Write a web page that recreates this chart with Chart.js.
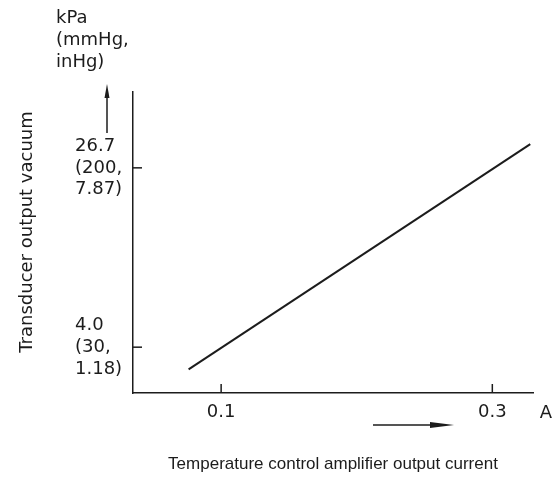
<!DOCTYPE html>
<html>
<head>
<meta charset="utf-8">
<script src="https://cdn.jsdelivr.net/npm/chart.js@4"></script>
<style>
  html, body { margin: 0; padding: 0; background: #fff; }
  #wrap { width: 554px; height: 479px; position: relative; }
</style>
</head>
<body>
<div id="wrap"><canvas id="chart" width="554" height="479"></canvas></div>
<script>
// current (A) vs vacuum (kPa)
const currentA = [0.076, 0.328];
const vacuumKPa = [1.2, 29.7];

const xTickValues = [0.1, 0.3];
const xTickLabels = ['0.1', '0.3'];
const yTickValues = [4.0, 26.7];
const yTickLabels = [['4.0', '(30,', '1.18)'], ['26.7', '(200,', '7.87)']];

const unitLines = ['kPa', '(mmHg,', 'inHg)'];
const xUnit = 'A';
const xTitle = 'Temperature control amplifier output current';
const yTitle = 'Transducer output vacuum';

const ink = '#1c1c1c';

// inward tick marks, arrows and loose text labels
const decorations = {
    id: 'decorations',
    afterDraw(chart) {
        const ctx = chart.ctx;
        const area = chart.chartArea;
        const xs = chart.scales.x;
        const ys = chart.scales.y;
        ctx.save();
        ctx.strokeStyle = ink;
        ctx.fillStyle = ink;
        ctx.lineWidth = 1.5;

        // tick marks pointing into the plot
        xTickValues.forEach(v => {
            const px = xs.getPixelForValue(v);
            ctx.beginPath();
            ctx.moveTo(px, area.bottom);
            ctx.lineTo(px, area.bottom - 9);
            ctx.stroke();
        });
        yTickValues.forEach(v => {
            const py = ys.getPixelForValue(v);
            ctx.beginPath();
            ctx.moveTo(area.left, py);
            ctx.lineTo(area.left + 9, py);
            ctx.stroke();
        });

        // vertical arrow beside the y axis
        const ax = area.left - 26;
        ctx.beginPath();
        ctx.moveTo(ax, area.top + 41);
        ctx.lineTo(ax, area.top - 2);
        ctx.stroke();
        ctx.beginPath();
        ctx.moveTo(ax, area.top - 8);
        ctx.lineTo(ax - 2.5, area.top + 6);
        ctx.lineTo(ax + 2.5, area.top + 6);
        ctx.closePath();
        ctx.fill();

        // horizontal arrow under the x axis
        const ay = area.bottom + 32;
        ctx.beginPath();
        ctx.moveTo(373, ay);
        ctx.lineTo(446, ay);
        ctx.stroke();
        ctx.beginPath();
        ctx.moveTo(454, ay);
        ctx.lineTo(430, ay - 3);
        ctx.lineTo(430, ay + 3);
        ctx.closePath();
        ctx.fill();

        // unit text
        ctx.font = '18px "DejaVu Sans"';
        ctx.textAlign = 'left';
        ctx.textBaseline = 'middle';
        unitLines.forEach((t, i) => ctx.fillText(t, 56, 18 + i * 22));
        ctx.textAlign = 'center';
        ctx.fillText(xUnit, 546, area.bottom + 20);

        // rotated y title
        ctx.translate(27, 232);
        ctx.rotate(-Math.PI / 2);
        ctx.fillText(yTitle, 0, 0);
        ctx.restore();
    }
};

new Chart(document.getElementById('chart'), {
    type: 'line',
    data: {
        labels: currentA,
        datasets: [{
            data: currentA.map((x, i) => ({ x: x, y: vacuumKPa[i] })),
            borderColor: ink,
            borderWidth: 2,
            pointRadius: 0,
            tension: 0,
            fill: false
        }]
    },
    options: {
        responsive: false,
        animation: false,
        layout: { padding: { left: 75, top: 92, right: 21, bottom: 0 } },
        plugins: {
            legend: { display: false },
            tooltip: { enabled: false }
        },
        scales: {
            x: {
                type: 'linear',
                min: 0.035,
                max: 0.33,
                afterBuildTicks: scale => { scale.ticks = xTickValues.map(v => ({ value: v })); },
                afterFit: scale => { scale.height = 86; },
                ticks: {
                    color: ink,
                    padding: 9,
                    maxRotation: 0,
                    autoSkip: false,
                    font: { family: 'DejaVu Sans', size: 18 },
                    callback: function(value) {
                        const i = xTickValues.indexOf(value);
                        return i >= 0 ? xTickLabels[i] : '';
                    }
                },
                grid: { drawOnChartArea: false, drawTicks: false },
                border: { display: true, color: ink, width: 1.5 },
                title: {
                    display: true,
                    text: xTitle,
                    color: ink,
                    padding: { top: 0, bottom: 4 },
                    font: { family: 'Liberation Sans', size: 17 }
                }
            },
            y: {
                type: 'linear',
                min: -1.8,
                max: 36.3,
                afterBuildTicks: scale => { scale.ticks = yTickValues.map(v => ({ value: v })); },
                afterFit: scale => { scale.width = 58; },
                ticks: {
                    color: ink,
                    crossAlign: 'far',
                    autoSkip: false,
                    font: { family: 'DejaVu Sans', size: 18, lineHeight: 1.22 },
                    callback: function(value) {
                        const i = yTickValues.indexOf(value);
                        return i >= 0 ? yTickLabels[i] : '';
                    }
                },
                grid: { drawOnChartArea: false, drawTicks: false },
                border: { display: true, color: ink, width: 1.5 }
            }
        }
    },
    plugins: [decorations]
});
</script>
</body>
</html>
